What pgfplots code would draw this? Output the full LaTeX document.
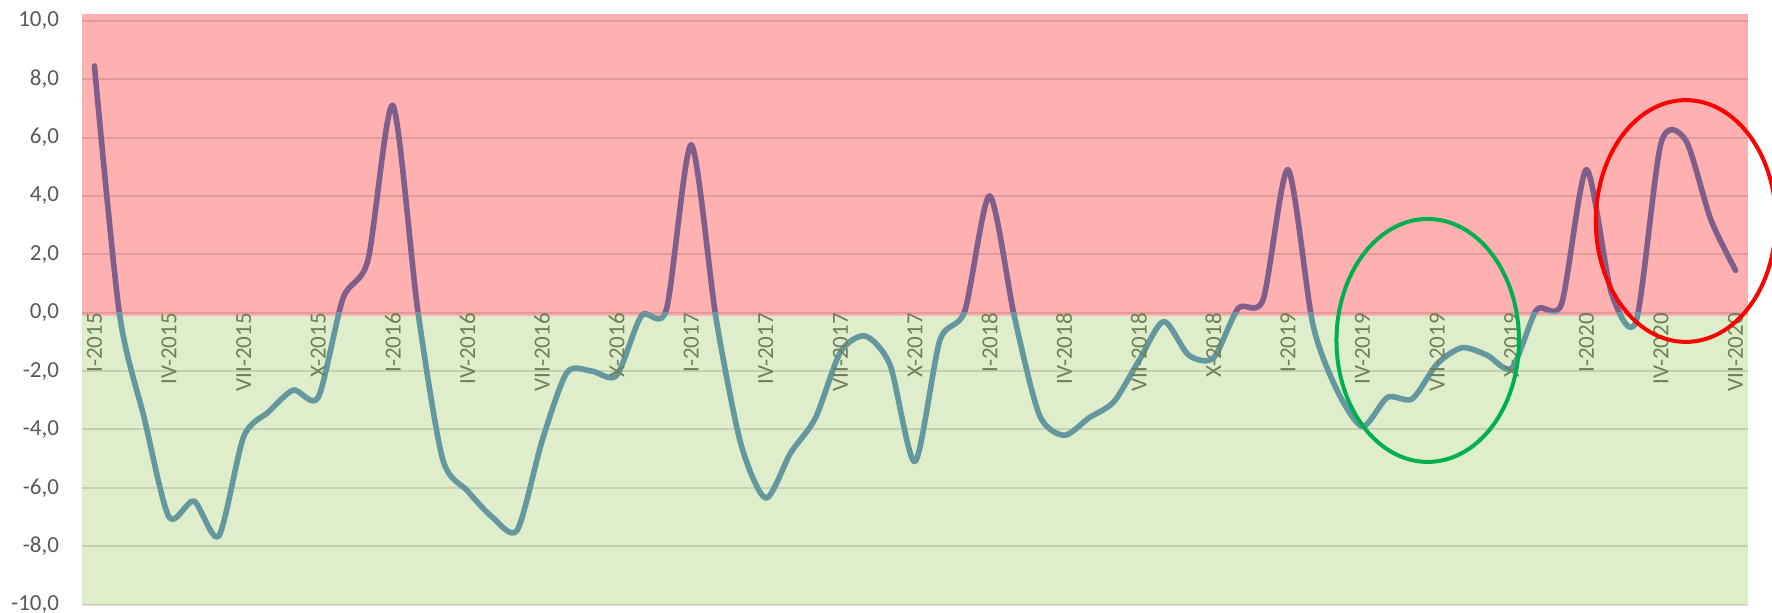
\documentclass[border=0pt]{standalone}
\usepackage{pgfplots}
\usepackage{pgfplotstable}
\pgfplotsset{compat=1.18}
\usepackage{fontspec}
\setmainfont{Carlito}
\definecolor{bgred}{HTML}{FFB0B0}
\definecolor{bggreen}{HTML}{DEEDCA}
\definecolor{linepurple}{HTML}{7F5F8A}
\definecolor{lineteal}{HTML}{64989E}
\definecolor{xlab}{HTML}{6E8058}
\definecolor{ylab}{HTML}{595959}
\definecolor{ellgreen}{HTML}{00B050}
\pgfplotstableread{
m v
0 8.45
1 0.0
2 -3.6
3 -7.0
4 -6.45
5 -7.65
6 -4.25
7 -3.4
8 -2.65
9 -2.9
10 0.5
11 1.8
12 7.1
13 0.1
14 -5.0
15 -6.1
16 -7.0
17 -7.45
18 -4.4
19 -2.05
20 -2.0
21 -2.15
22 -0.1
23 0.1
24 5.75
25 -0.2
26 -4.5
27 -6.35
28 -4.8
29 -3.6
30 -1.35
31 -0.8
32 -1.8
33 -5.1
34 -0.95
35 0.05
36 4.0
37 -0.15
38 -3.5
39 -4.2
40 -3.6
41 -3.05
42 -1.65
43 -0.3
44 -1.45
45 -1.55
46 0.15
47 0.45
48 4.9
49 -0.4
50 -2.7
51 -3.9
52 -2.9
53 -2.95
54 -1.75
55 -1.2
56 -1.45
57 -1.9
58 0.1
59 0.3
60 4.9
61 0.7
62 -0.3
63 5.8
64 5.9
65 3.2
66 1.45
}\datatab
\pgfplotsset{
  base/.style={scale only axis, width=833pt, xmin=-0.5, xmax=66.5, anchor=south west},
  dataline/.style={line width=2.8pt, line cap=round, line join=round, smooth, tension=0.45},
}
\begin{document}
\begin{tikzpicture}
\clip (-41pt,-4.15pt) rectangle (845pt,302.35pt);
% background and grid
\begin{axis}[base, at={(0,0)}, height=295.35pt, ymin=-10, ymax=10.23,
  axis line style={draw=none}, xtick=\empty, ytick={-10,-8,...,10}, yticklabels={},
  major tick length=0pt, ymajorgrids, axis on top,
  major grid style={black, opacity=0.12, line width=1pt}]
\addplot[draw=none, fill=bgred] coordinates {(-0.5,-0.13) (66.5,-0.13) (66.5,10.23) (-0.5,10.23)} -- cycle;
\addplot[draw=none, fill=bggreen] coordinates {(-0.5,-10) (66.5,-10) (66.5,-0.13) (-0.5,-0.13)} -- cycle;
\end{axis}
% upper (purple) part of the line
\begin{axis}[base, at={(0,146pt)}, height=149.35pt, ymin=0, ymax=10.23, hide axis]
\addplot[linepurple, dataline] table[x=m,y=v]{\datatab};
\end{axis}
% lower (teal) part of the line
\begin{axis}[base, at={(0,0)}, height=146pt, ymin=-10, ymax=0, hide axis]
\addplot[lineteal, dataline] table[x=m,y=v]{\datatab};
\end{axis}
% tick labels and ellipses
\begin{axis}[base, at={(0,0)}, height=295.35pt, ymin=-10, ymax=10.23,
  clip=false,
  axis x line=middle, axis y line=left,
  axis line style={draw=none},
  xtick={0,3,...,66},
  xticklabels={I-2015,IV-2015,VII-2015,X-2015,I-2016,IV-2016,VII-2016,X-2016,I-2017,IV-2017,VII-2017,X-2017,I-2018,IV-2018,VII-2018,X-2018,I-2019,IV-2019,VII-2019,X-2019,I-2020,IV-2020,VII-2020},
  ytick={-10,-8,...,10},
  major tick length=0pt,
  x tick label style={rotate=90, anchor=east, font=\fontsize{11.5}{12}\selectfont, text=xlab, inner sep=0pt},
  y tick label style={anchor=east, font=\fontsize{11.5}{12}\selectfont, text=ylab, inner sep=0pt, xshift=-11.3pt},
  /pgf/number format/.cd, fixed, fixed zerofill, precision=1, use comma, assume math mode=true,
]
\draw[ellgreen, line width=2pt] (axis cs:53.62,-0.95) ellipse [x radius=3.67, y radius=4.16];
\draw[red, line width=2pt] (axis cs:64.0,3.14) ellipse [x radius=3.62, y radius=4.14];
\end{axis}
\end{tikzpicture}
\end{document}
